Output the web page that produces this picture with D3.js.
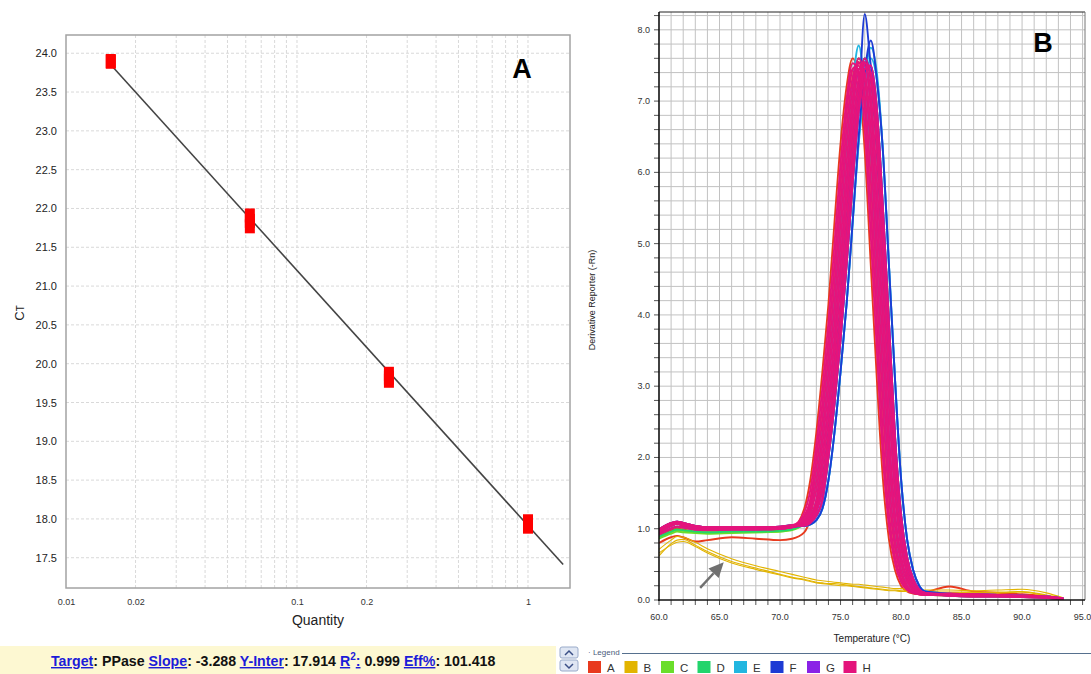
<!DOCTYPE html>
<html>
<head>
<meta charset="utf-8">
<script src="https://cdn.jsdelivr.net/npm/d3@7"></script>
<style>
  body { margin: 0; background: #fff; }
  svg { display: block; font-family: "Liberation Sans", Arial, sans-serif; }
</style>
</head>
<body>
<script>
// ---- panel A: standard curve ----
const quantities = [0.015625, 0.0625, 0.25, 1];
const ctReplicates = [[23.90, 23.89], [21.91, 21.84, 21.77], [19.87, 19.82, 19.78], [17.97, 17.93, 17.90]];
const ctTicks = [17.5, 18, 18.5, 19, 19.5, 20, 20.5, 21, 21.5, 22, 22.5, 23, 23.5, 24];
const quantityLabels = [0.01, 0.02, 0.1, 0.2, 1];
const fitEnds = [0.015625, 1.42];
const slope = -3.288, yInter = 17.914, rSquared = 0.999, effPct = 101.418;

// ---- panel B: melt curves ----
const tempC = [60, 61, 61.5, 62, 63, 64, 66, 68, 70, 71, 72, 72.5, 73, 73.5, 74, 74.5, 75, 75.5, 76, 76.5, 77, 77.5, 78, 78.5, 79, 79.5, 80, 80.5, 81, 81.5, 82, 84, 86, 88, 90, 92, 93.4];

const a1 = [0.90,0.98,1.00,0.99,0.96,0.95,0.96,0.97,0.98,1.01, 1.28,1.68,2.35,3.2,4.15,5.3,6.4,7.2,7.6,7.3,6.3,4.7,3.1,1.7,0.85,0.42,0.2,0.12,0.09,0.08,0.07, 0.09,0.08,0.07,0.06,0.05,0.02];
const a2 = [0.80,0.88,0.90,0.88,0.82,0.84,0.88,0.86,0.84,0.86, 0.95,1.15,1.68,2.35,3.2,4.15,5.3,6.4,7.2,7.6,7.3,6.3,4.7,3.1,1.7,0.85,0.42,0.2,0.12,0.1,0.11, 0.19,0.12,0.1,0.08,0.05,0.02];
const a3 = [0.92,1.00,1.03,1.02,0.99,0.98,0.99,0.99,1.00,1.02, 1.18,1.4,2.0,2.75,3.65,4.7,5.85,6.85,7.45,7.5,6.9,5.5,3.9,2.3,1.2,0.6,0.3,0.15,0.1,0.08,0.07, 0.08,0.07,0.06,0.05,0.04,0.02];

const b1 = [0.62,0.79,0.84,0.85,0.77,0.68,0.54,0.45,0.36,0.32, 0.29,0.27,0.25,0.24,0.23,0.23,0.22,0.21,0.20,0.19,0.18,0.17,0.16,0.15,0.14,0.14,0.13,0.13,0.12,0.12,0.12, 0.11,0.11,0.11,0.12,0.07,0.03];
const b2 = [0.71,0.84,0.89,0.88,0.81,0.72,0.58,0.48,0.40,0.36, 0.32,0.30,0.28,0.27,0.26,0.25,0.24,0.23,0.22,0.22,0.21,0.20,0.19,0.18,0.17,0.16,0.16,0.15,0.15,0.14,0.14, 0.14,0.13,0.14,0.15,0.10,0.03];
const b3 = [0.66,0.77,0.81,0.82,0.75,0.66,0.52,0.43,0.35,0.31, 0.28,0.26,0.24,0.23,0.22,0.21,0.20,0.20,0.19,0.18,0.17,0.16,0.15,0.14,0.13,0.13,0.12,0.12,0.11,0.11,0.11, 0.10,0.10,0.10,0.11,0.06,0.02];
const b4 = [0.95,1.04,1.07,1.05,1.02,1.00,1.00,1.00,1.01,1.03, 1.15,1.34,1.84,2.55,3.43,4.43,5.58,6.63,7.33,7.55,7.1,5.9,4.3,2.7,1.45,0.73,0.36,0.18,0.11,0.09,0.08, 0.08,0.07,0.06,0.05,0.04,0.02];

const c1 = [0.88,0.95,0.98,0.97,0.95,0.94,0.95,0.95,0.96,0.98, 1.08,1.18,1.4,2.0,2.75,3.65,4.7,5.85,6.85,7.45,7.5,6.9,5.5,3.9,2.3,1.2,0.6,0.3,0.15,0.1,0.08, 0.06,0.05,0.05,0.04,0.03,0.01];
const c2 = [0.86,0.93,0.96,0.95,0.94,0.93,0.94,0.95,0.96,0.99, 1.06,1.12,1.28,1.68,2.35,3.2,4.15,5.3,6.4,7.2,7.6,7.3,6.3,4.7,3.1,1.7,0.85,0.42,0.2,0.12,0.09, 0.08,0.07,0.06,0.05,0.04,0.02];

const d1 = [0.89,0.96,0.99,0.98,0.96,0.95,0.96,0.96,0.97,0.99, 1.12,1.28,1.68,2.35,3.2,4.15,5.3,6.4,7.2,7.6,7.3,6.3,4.7,3.1,1.7,0.85,0.42,0.2,0.12,0.09,0.08, 0.08,0.07,0.06,0.05,0.04,0.02];
const d2 = [0.92,1.00,1.03,1.02,0.99,0.98,0.99,0.99,1.00,1.02, 1.04,1.08,1.18,1.4,2.0,2.75,3.65,4.7,5.85,6.85,7.45,7.5,6.9,5.5,3.9,2.3,1.2,0.6,0.3,0.15,0.1, 0.06,0.05,0.05,0.04,0.03,0.01];

const e1 = [0.99,1.08,1.10,1.08,1.04,1.02,1.02,1.02,1.03,1.05, 1.04,1.06,1.12,1.28,1.68,2.35,3.2,4.15,5.3,6.4,7.2,7.6,7.3,6.3,4.7,3.1,1.7,0.85,0.42,0.2,0.12, 0.09,0.08,0.07,0.06,0.05,0.02];
const e2 = [0.95,1.04,1.07,1.05,1.02,1.00,1.00,1.00,1.01,1.03, 1.12,1.28,1.68,2.35,3.2,4.15,5.3,6.4,7.25,7.78,7.2,6.3,4.7,3.1,1.7,0.85,0.42,0.2,0.12,0.09,0.08, 0.08,0.07,0.06,0.05,0.04,0.02];
const e3 = [0.97,1.06,1.08,1.06,1.03,1.01,1.01,1.01,1.02,1.04, 1.04,1.06,1.12,1.28,1.68,2.35,3.2,4.15,5.3,6.45,7.3,7.75,7.4,6.3,4.7,3.1,1.7,0.85,0.42,0.2,0.12, 0.08,0.07,0.06,0.05,0.04,0.02];

const f1 = [0.99,1.08,1.10,1.08,1.04,1.02,1.02,1.02,1.03,1.05, 1.04,1.08,1.18,1.4,2.0,2.75,3.65,4.7,5.85,6.9,8.22,7.5,6.9,5.5,3.9,2.3,1.2,0.6,0.3,0.15,0.1, 0.08,0.07,0.06,0.05,0.04,0.02];
const f2 = [0.95,1.04,1.07,1.05,1.02,1.00,1.00,1.00,1.01,1.03, 1.04,1.06,1.12,1.28,1.68,2.35,3.2,4.15,5.3,6.5,7.4,7.85,7.3,6.3,4.7,3.1,1.7,0.85,0.42,0.2,0.12, 0.09,0.08,0.07,0.06,0.05,0.02];
const f3 = [0.97,1.06,1.08,1.06,1.03,1.01,1.01,1.01,1.02,1.04, 1.06,1.12,1.28,1.68,2.35,3.2,4.15,5.3,6.4,7.2,7.6,7.3,6.3,4.7,3.1,1.7,0.85,0.42,0.2,0.12,0.09, 0.08,0.07,0.06,0.05,0.04,0.02];

const g1 = [0.95,1.04,1.07,1.05,1.02,1.00,1.00,1.00,1.01,1.03, 1.04,1.08,1.18,1.4,2.0,2.75,3.65,4.7,5.85,6.85,7.45,7.5,6.9,5.5,3.9,2.3,1.2,0.6,0.3,0.15,0.1, 0.08,0.07,0.06,0.05,0.04,0.02];
const g2 = [0.92,1.00,1.03,1.02,0.99,0.98,0.99,0.99,1.00,1.02, 1.08,1.18,1.4,2.0,2.75,3.65,4.7,5.85,6.85,7.45,7.5,6.9,5.5,3.9,2.3,1.2,0.6,0.3,0.15,0.1,0.08, 0.09,0.08,0.07,0.06,0.05,0.02];
const g3 = [0.97,1.06,1.08,1.06,1.03,1.01,1.01,1.01,1.02,1.04, 1.05,1.1,1.23,1.54,2.18,2.98,3.9,5.0,6.13,7.03,7.53,7.4,6.6,5.1,3.5,2.0,1.03,0.51,0.25,0.14,0.1, 0.06,0.05,0.05,0.04,0.03,0.01];

const h1 = [0.95,1.04,1.07,1.05,1.02,1.00,1.00,1.00,1.01,1.03, 1.23,1.54,2.18,2.98,3.9,5.0,6.13,7.03,7.53,7.4,6.6,5.1,3.5,2.0,1.03,0.51,0.25,0.14,0.1,0.08,0.07, 0.08,0.07,0.06,0.05,0.04,0.02];
const h2 = [0.99,1.08,1.10,1.08,1.04,1.02,1.02,1.02,1.03,1.05, 1.18,1.4,2.0,2.75,3.65,4.7,5.85,6.85,7.45,7.5,6.9,5.5,3.9,2.3,1.2,0.6,0.3,0.15,0.1,0.08,0.07, 0.08,0.07,0.06,0.05,0.04,0.02];
const h3 = [0.92,1.00,1.03,1.02,0.99,0.98,0.99,0.99,1.00,1.02, 1.15,1.34,1.84,2.55,3.43,4.43,5.58,6.63,7.33,7.55,7.1,5.9,4.3,2.7,1.45,0.73,0.36,0.18,0.11,0.09,0.08, 0.09,0.08,0.07,0.06,0.05,0.02];
const h4 = [0.97,1.06,1.08,1.06,1.03,1.01,1.01,1.01,1.02,1.04, 1.12,1.28,1.68,2.35,3.2,4.15,5.3,6.4,7.2,7.6,7.3,6.3,4.7,3.1,1.7,0.85,0.42,0.2,0.12,0.09,0.08, 0.08,0.07,0.06,0.05,0.04,0.02];
const h5 = [0.95,1.04,1.07,1.05,1.02,1.00,1.00,1.00,1.01,1.03, 1.1,1.23,1.54,2.18,2.98,3.9,5.0,6.13,7.03,7.53,7.4,6.6,5.1,3.5,2.0,1.03,0.51,0.25,0.14,0.1,0.08, 0.06,0.05,0.05,0.04,0.03,0.01];
const h6 = [0.99,1.08,1.10,1.08,1.04,1.02,1.02,1.02,1.03,1.05, 1.08,1.18,1.4,2.0,2.75,3.65,4.7,5.85,6.85,7.45,7.5,6.9,5.5,3.9,2.3,1.2,0.6,0.3,0.15,0.1,0.08, 0.08,0.07,0.06,0.05,0.04,0.02];
const h7 = [0.92,1.00,1.03,1.02,0.99,0.98,0.99,0.99,1.00,1.02, 1.07,1.15,1.34,1.84,2.55,3.43,4.43,5.58,6.63,7.33,7.55,7.1,5.9,4.3,2.7,1.45,0.73,0.36,0.18,0.11,0.09, 0.09,0.08,0.07,0.06,0.05,0.02];
const h8 = [0.97,1.06,1.08,1.06,1.03,1.01,1.01,1.01,1.02,1.04, 1.06,1.12,1.28,1.68,2.35,3.2,4.15,5.3,6.4,7.2,7.6,7.3,6.3,4.7,3.1,1.7,0.85,0.42,0.2,0.12,0.09, 0.08,0.07,0.06,0.05,0.04,0.02];
const h9 = [0.95,1.04,1.07,1.05,1.02,1.00,1.00,1.00,1.01,1.03, 1.05,1.1,1.23,1.54,2.18,2.98,3.9,5.0,6.13,7.03,7.53,7.4,6.6,5.1,3.5,2.0,1.03,0.51,0.25,0.14,0.1, 0.06,0.05,0.05,0.04,0.03,0.01];
const h10 = [0.99,1.08,1.10,1.08,1.04,1.02,1.02,1.02,1.03,1.05, 1.04,1.08,1.18,1.4,2.0,2.75,3.65,4.7,5.85,6.85,7.45,7.5,6.9,5.5,3.9,2.3,1.2,0.6,0.3,0.15,0.1, 0.08,0.07,0.06,0.05,0.04,0.02];

const wellLetters = ["A", "B", "C", "D", "E", "F", "G", "H"];
const wellCurves = [[a1, a2, a3], [b1, b2, b3, b4], [c1, c2], [d1, d2], [e1, e2, e3], [f1, f2, f3], [g1, g2, g3],
  [h1, h2, h3, h4, h5, h6, h7, h8, h9, h10]];
const tempTicks = [60, 65, 70, 75, 80, 85, 90, 95];
const arrowFrom = [63.4, 0.17], arrowTo = [65.35, 0.53];

const wellColors = ["#e83a1e", "#e2b400", "#6ade2a", "#22d46c", "#22b6e0", "#1d3bd4", "#8a22e6", "#e4147c"];

const W = 1091, H = 674;
const svg = d3.select("body").append("svg").attr("width", W).attr("height", H);

// =============== Panel A ===============
const xA = d3.scaleLog().domain([0.01, 1.52]).range([66, 570]);
const yA = d3.scaleLinear().domain([17.11, 24.235]).range([588, 35]);

const gA = svg.append("g");

// dashed grid
gA.append("g")
  .selectAll("line")
  .data(ctTicks)
  .join("line")
  .attr("x1", 66).attr("x2", 570)
  .attr("y1", d => yA(d)).attr("y2", d => yA(d))
  .attr("stroke", "#d9d9d9").attr("stroke-dasharray", "3,2");

gA.append("g")
  .selectAll("line")
  .data(xA.ticks().filter(d => d > 0.0101))
  .join("line")
  .attr("x1", d => xA(d)).attr("x2", d => xA(d))
  .attr("y1", 35).attr("y2", 588)
  .attr("stroke", "#d9d9d9").attr("stroke-dasharray", "3,2");

// frame
gA.append("rect")
  .attr("x", 66).attr("y", 35).attr("width", 504).attr("height", 553)
  .attr("fill", "none").attr("stroke", "#a3a3a3").attr("stroke-width", 1.5);

const yAxisA = gA.append("g")
  .attr("transform", "translate(66,0)")
  .call(d3.axisLeft(yA).tickValues(ctTicks).tickFormat(d3.format(".1f")).tickSize(0).tickPadding(9));
yAxisA.select(".domain").remove();
yAxisA.selectAll("text").attr("font-size", 11).attr("fill", "#222").attr("font-family", "Liberation Sans, Arial, sans-serif");

const xAxisA = gA.append("g")
  .attr("transform", "translate(0,588)")
  .call(d3.axisBottom(xA).tickValues(quantityLabels).tickFormat(d => String(d)).tickSize(0).tickPadding(11));
xAxisA.select(".domain").remove();
xAxisA.selectAll("text").attr("font-size", 9).attr("fill", "#333").attr("font-family", "Liberation Sans, Arial, sans-serif");

// axis titles
gA.append("text")
  .attr("x", 318).attr("y", 625)
  .attr("text-anchor", "middle").attr("font-size", 14).attr("fill", "#222")
  .text("Quantity");

const ctLabel = gA.append("text")
  .attr("transform", "translate(24,313) rotate(-90)")
  .attr("text-anchor", "middle").attr("fill", "#222");
ctLabel.append("tspan").attr("font-size", 13).text("C");
ctLabel.append("tspan").attr("font-size", 10).text("T");

// regression line
gA.append("line")
  .attr("x1", xA(fitEnds[0])).attr("y1", yA(yInter + slope * Math.log10(fitEnds[0])))
  .attr("x2", xA(fitEnds[1])).attr("y2", yA(yInter + slope * Math.log10(fitEnds[1])))
  .attr("stroke", "#444").attr("stroke-width", 1.6);

// replicate markers
const pts = quantities.flatMap((q, i) => ctReplicates[i].map(ct => ({ q, ct })));
gA.append("g")
  .selectAll("rect")
  .data(pts)
  .join("rect")
  .attr("x", d => xA(d.q) - 5).attr("y", d => yA(d.ct) - 7)
  .attr("width", 10).attr("height", 14)
  .attr("fill", "#ff0000");

gA.append("text")
  .attr("x", 522).attr("y", 78)
  .attr("text-anchor", "middle").attr("font-size", 27).attr("font-weight", "bold")
  .text("A");

// status bar
svg.append("rect").attr("x", 0).attr("y", 646).attr("width", 556).attr("height", 28).attr("fill", "#fdf8d2");

const info = svg.append("text")
  .attr("x", 51).attr("y", 666)
  .attr("font-size", 14.2).attr("font-weight", "bold").attr("fill", "#111");
const link = (t) => info.append("tspan").attr("fill", "#1c1cd8").attr("text-decoration", "underline").text(t);
const plain = (t) => info.append("tspan").attr("fill", "#111").text(t);
link("Target"); plain(": PPase ");
link("Slope"); plain(": " + slope.toFixed(3) + " ");
link("Y-Inter"); plain(": " + yInter.toFixed(3) + " ");
link("R");
info.append("tspan").attr("fill", "#1c1cd8").attr("font-size", 10).attr("dy", -6).text("2");
info.append("tspan").attr("fill", "#1c1cd8").attr("text-decoration", "underline").attr("dy", 6).text(":");
plain(" " + rSquared.toFixed(3) + " ");
link("Eff%"); plain(": " + effPct.toFixed(3));

// scroll buttons
[[647, "M565,655 L569,651 L573,655"], [660, "M565,664 L569,668 L573,664"]].forEach(([y, p]) => {
  svg.append("rect").attr("x", 560).attr("y", y).attr("width", 18).attr("height", 11).attr("rx", 2)
    .attr("fill", "#dfe6f3").attr("stroke", "#9aabca");
  svg.append("path").attr("d", p).attr("fill", "none").attr("stroke", "#3a4f86").attr("stroke-width", 1.5);
});

// =============== Panel B ===============
const xB = d3.scaleLinear().domain([60, 95.2]).range([659, 1085]);
const yB = d3.scaleLinear().domain([0, 8.25]).range([600, 12]);
const gB = svg.append("g");

const vGrid = d3.range(61, 96, 1);
const hGrid = d3.range(0.2, 8.25, 0.2);
gB.append("g").selectAll("line").data(vGrid).join("line")
  .attr("x1", d => xB(d)).attr("x2", d => xB(d)).attr("y1", 12).attr("y2", 600)
  .attr("stroke", "#c2c2c2");
gB.append("g").selectAll("line").data(hGrid).join("line")
  .attr("x1", 659).attr("x2", 1085).attr("y1", d => yB(d)).attr("y2", d => yB(d))
  .attr("stroke", "#c2c2c2");

// minor tick marks outside
gB.append("g").selectAll("line").data(d3.range(0, 8.25, 0.2)).join("line")
  .attr("x1", 654).attr("x2", 659).attr("y1", d => yB(d)).attr("y2", d => yB(d))
  .attr("stroke", "#555");
gB.append("g").selectAll("line").data(d3.range(60, 96, 1)).join("line")
  .attr("x1", d => xB(d)).attr("x2", d => xB(d)).attr("y1", 600).attr("y2", 605)
  .attr("stroke", "#555");

// curves
const clip = svg.append("defs").append("clipPath").attr("id", "plotB");
clip.append("rect").attr("x", 659).attr("y", 12).attr("width", 426).attr("height", 588);

const line = d3.line()
  .x((d, i) => xB(tempC[i]))
  .y(d => yB(d))
  .curve(d3.curveMonotoneX);

const curveG = gB.append("g").attr("clip-path", "url(#plotB)");
wellCurves.forEach((curves, w) => {
  curveG.append("g")
    .selectAll("path")
    .data(curves)
    .join("path")
    .attr("d", line)
    .attr("fill", "none")
    .attr("stroke", wellColors[w])
    .attr("stroke-width", d => d[0] < 0.75 ? 1.1 : 1.9);
});

// frame
gB.append("line").attr("x1", 659).attr("x2", 1085).attr("y1", 12).attr("y2", 12).attr("stroke", "#222");
gB.append("line").attr("x1", 1085).attr("x2", 1085).attr("y1", 12).attr("y2", 600).attr("stroke", "#777");
gB.append("line").attr("x1", 659).attr("x2", 659).attr("y1", 12).attr("y2", 601).attr("stroke", "#111").attr("stroke-width", 1.6);
gB.append("line").attr("x1", 658).attr("x2", 1085).attr("y1", 600).attr("y2", 600).attr("stroke", "#111").attr("stroke-width", 1.6);

// tick labels
gB.append("g").selectAll("text").data(d3.range(0, 9, 1)).join("text")
  .attr("x", 650).attr("y", d => yB(d) + 3)
  .attr("text-anchor", "end").attr("font-size", 9).attr("fill", "#333")
  .text(d => d3.format(".1f")(d));
gB.append("g").selectAll("text").data(tempTicks).join("text")
  .attr("x", d => xB(d)).attr("y", 620)
  .attr("text-anchor", "middle").attr("font-size", 9).attr("fill", "#333")
  .text(d => d3.format(".1f")(d));

gB.append("text")
  .attr("x", 872).attr("y", 642)
  .attr("text-anchor", "middle").attr("font-size", 10).attr("fill", "#222")
  .text("Temperature (°C)");
gB.append("text")
  .attr("transform", "translate(595,300) rotate(-90)")
  .attr("text-anchor", "middle").attr("font-size", 9).attr("fill", "#222")
  .text("Derivative Reporter (-Rn)");

gB.append("text")
  .attr("x", 1043).attr("y", 52)
  .attr("text-anchor", "middle").attr("font-size", 27).attr("font-weight", "bold")
  .text("B");

// arrow
{
  const x1 = xB(arrowFrom[0]), y1 = yB(arrowFrom[1]);
  const x2 = xB(arrowTo[0]), y2 = yB(arrowTo[1]);
  const ang = Math.atan2(y2 - y1, x2 - x1);
  const hl = 15, hw = 7;
  const bx = x2 - hl * Math.cos(ang), by = y2 - hl * Math.sin(ang);
  gB.append("line").attr("x1", x1).attr("y1", y1).attr("x2", bx).attr("y2", by)
    .attr("stroke", "#707070").attr("stroke-width", 2.5);
  gB.append("path")
    .attr("d", `M${x2},${y2} L${bx + hw * Math.sin(ang)},${by - hw * Math.cos(ang)} L${bx - hw * Math.sin(ang)},${by + hw * Math.cos(ang)} Z`)
    .attr("fill", "#707070");
}

// legend
const lg = svg.append("g");
lg.append("text").attr("x", 588).attr("y", 655).attr("font-size", 8).attr("fill", "#4a5a7a").text("· Legend");
lg.append("line").attr("x1", 622).attr("x2", 1091).attr("y1", 653.5).attr("y2", 653.5).attr("stroke", "#56708e");
wellLetters.forEach((w, i) => {
  const x = 588 + i * 36.5;
  lg.append("rect").attr("x", x).attr("y", 661).attr("width", 13).attr("height", 12).attr("fill", wellColors[i]);
  lg.append("text").attr("x", x + 19).attr("y", 672).attr("font-size", 11.5).attr("fill", "#333").text(w);
});
</script>
</body>
</html>
